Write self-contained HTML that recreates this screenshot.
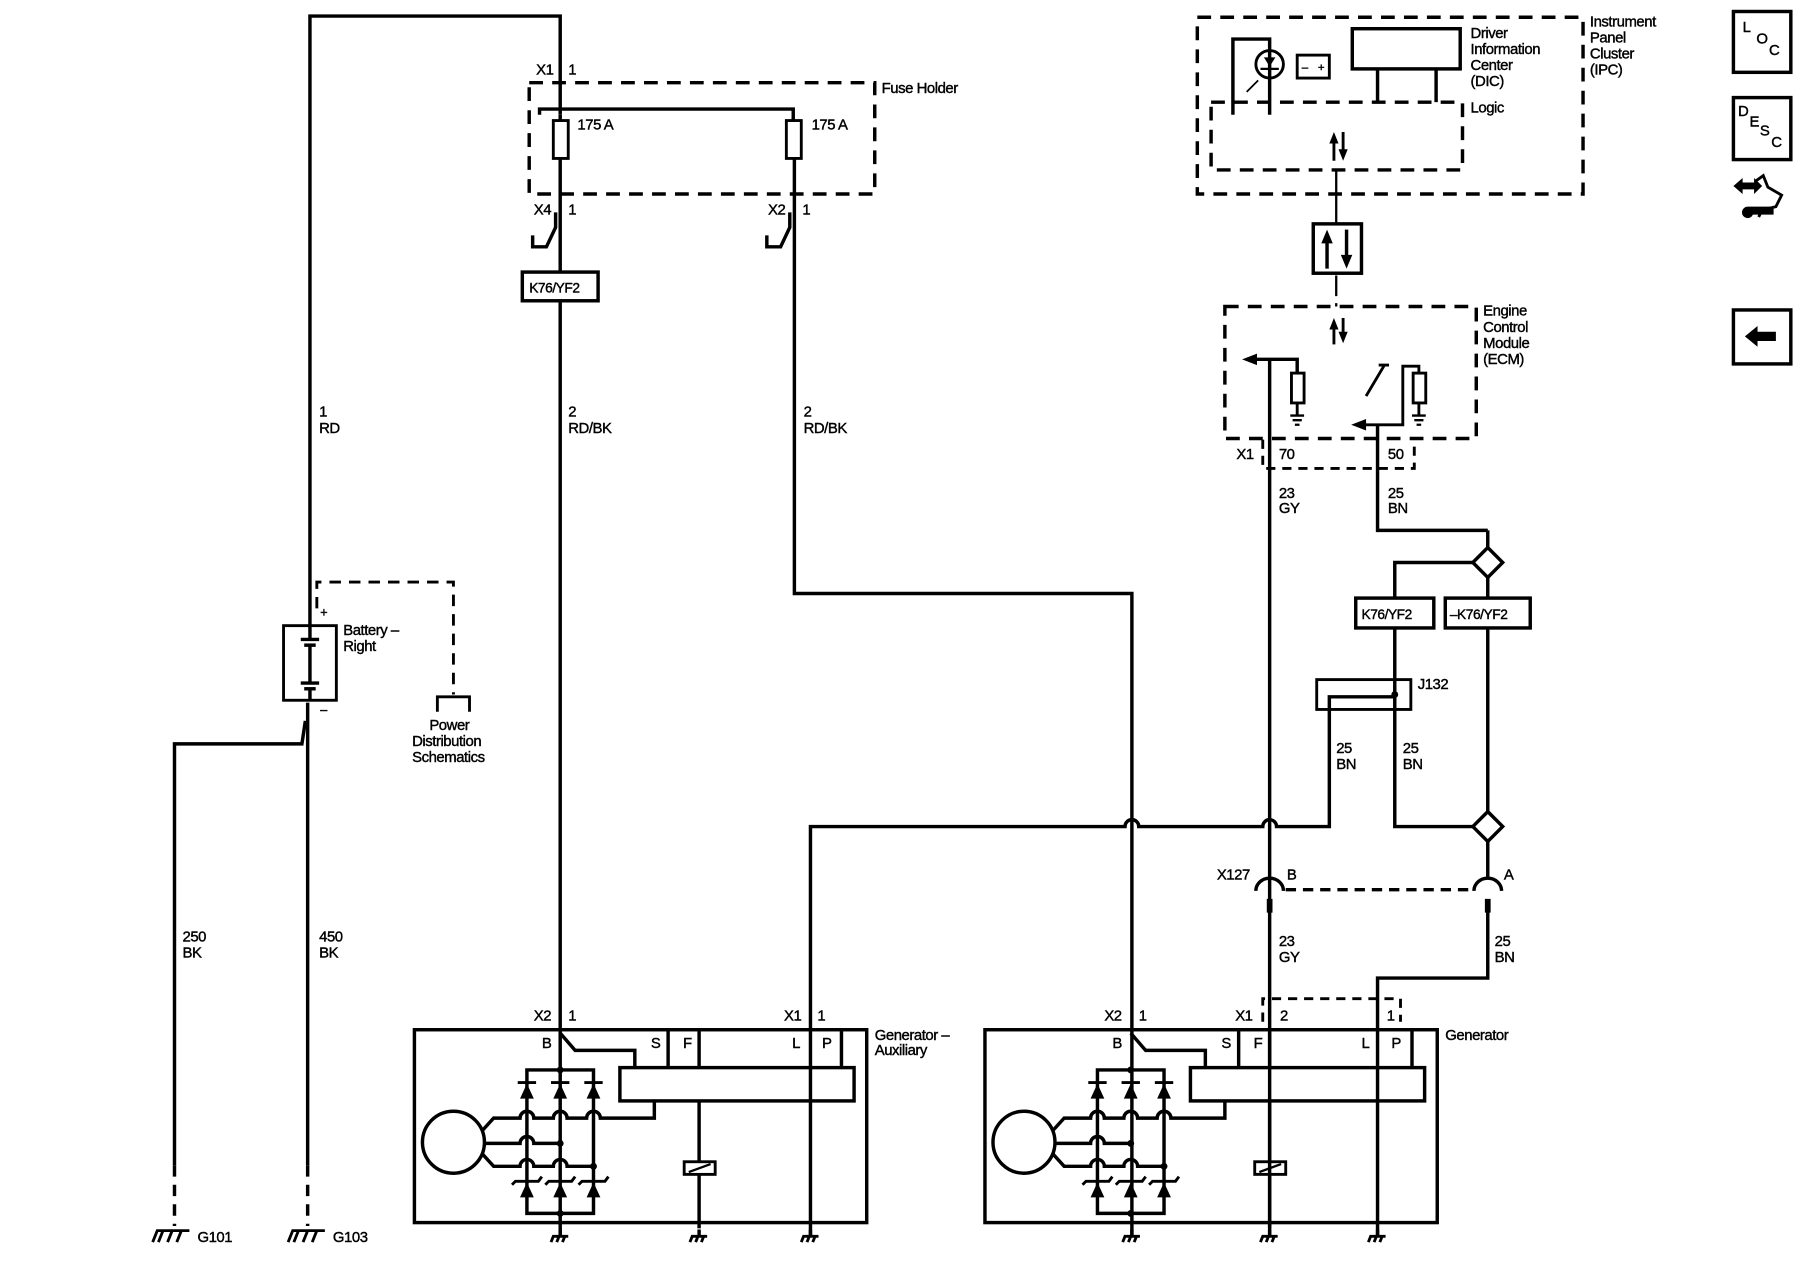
<!DOCTYPE html>
<html><head><meta charset="utf-8"><style>
html,body{margin:0;padding:0;background:#fff;width:1800px;height:1280px;overflow:hidden}
svg{display:block}
text{font-family:"Liberation Sans",Arial,sans-serif;font-size:13px;fill:#000;stroke:#000;stroke-width:0.35;letter-spacing:-0.4px}
</style></head><body>
<svg width="1800" height="1280" viewBox="0 0 1568 1115" xmlns="http://www.w3.org/2000/svg">
<defs>
<g id="gnd"><line x1="0" y1="0" x2="0" y2="6" stroke="#000" stroke-width="3"/><path d="M-8,11 L-6,6 H7 M-6,6 L-8,11 M-1,6 L-3,11 M4,6 L2,11" stroke="#000" stroke-width="2.5" fill="none"/></g>
<g id="gen" fill="none" stroke="#000" stroke-width="3">
<rect x="361" y="897" width="394" height="168"/>
<rect x="540" y="930" width="204" height="29"/>
<line x1="582" y1="897" x2="582" y2="930"/>
<line x1="609" y1="897" x2="609" y2="930"/>
<line x1="733" y1="897" x2="733" y2="930"/>
<path d="M488,900 L501,915 H553 V930"/>
<path d="M459,1057 V932 H517 V1057 Z"/>
<circle cx="395" cy="995" r="27"/>
<path d="M420,985 L430,974 H453 a6,6 0 0 1 12,0 H482 a6,6 0 0 1 12,0 H511 a6,6 0 0 1 12,0 H570 V959"/>
<path d="M422,996 H453 a6,6 0 0 1 12,0 H488"/>
<path d="M420,1005 L430,1016 H453 a6,6 0 0 1 12,0 H482 a6,6 0 0 1 12,0 H517"/>
<line x1="609" y1="959" x2="609" y2="1012"/>
<line x1="609" y1="1024" x2="609" y2="1070"/>
<rect x="596" y="1012" width="27" height="11" stroke-width="2.5"/>
<line x1="600" y1="1021" x2="619" y2="1014" stroke-width="2"/>
</g>
<g id="d1"><path d="M-6,957 L0,944 L6,957 Z" fill="#000"/><line x1="-8" y1="943" x2="8" y2="943" stroke="#000" stroke-width="2.5"/></g>
<g id="d2"><path d="M-6,1043 L0,1030 L6,1043 Z" fill="#000"/><path d="M-13,1032 L-10,1029 H10 L13,1025" stroke="#000" stroke-width="2.5" fill="none"/></g>
</defs>

<g fill="none" stroke="#000" stroke-width="3">
<path d="M270,545 V14 H488 V100"/>
<rect x="247" y="545" width="46" height="65" stroke-width="2.5"/>
<line x1="270" y1="545" x2="270" y2="557"/><line x1="262" y1="557" x2="278" y2="557"/><line x1="265" y1="562" x2="275" y2="562"/><line x1="270" y1="562" x2="270" y2="595"/>
<line x1="262" y1="595" x2="278" y2="595"/><line x1="265" y1="600" x2="275" y2="600"/><line x1="270" y1="600" x2="270" y2="610"/>
<path d="M268,612 V1015"/>
<path d="M266,628 L263,648 H152 V1015"/>
<path d="M152,1015 V1068 M268,1015 V1068" stroke-dasharray="10,7"/>
<path d="M276,530 V507 H395 V605" stroke-dasharray="10,7" stroke-width="2.5"/>
<path d="M381,620 V607 H409 V620" stroke-width="2.5"/>
<rect x="461" y="72" width="301" height="97" stroke-dasharray="12,8"/>
<path d="M470,100 V95 H691 V105"/>
<rect x="482" y="105" width="13" height="33" stroke-width="2.5"/>
<rect x="685" y="105" width="13" height="33" stroke-width="2.5"/>
<line x1="488" y1="100" x2="488" y2="105"/>
<line x1="488" y1="138" x2="488" y2="1077"/>
<path d="M464,205 V215 H476 L484,198 L484,185"/>
<path d="M668,205 V215 H680 L688,198 L688,185"/>
<rect x="455" y="237" width="66" height="25" fill="#fff"/>
<path d="M692,138 V517 H986 V1077"/>
<path d="M706,1077 V720 H980 a6,6 0 0 1 12,0 H1100 a6,6 0 0 1 12,0 H1158 V607 H1215"/>
<rect x="1147" y="592" width="82" height="26" stroke-width="2.5"/>
<path d="M1106,313 V1077"/>
<path d="M1092,313 H1130 V325"/>
<path d="M1200,370 V462 H1296"/>
<path d="M1296,462 V477"/>
<path d="M1283,490 H1215 V521"/>
<rect x="1181" y="521" width="68" height="26" fill="#fff"/>
<rect x="1259" y="521" width="74" height="26" fill="#fff"/>
<path d="M1296,503 V521 M1296,547 V707"/>
<path d="M1215,547 V720 H1283"/>
<path d="M1283,490 L1296,477 L1309,490 L1296,503 Z"/>
<path d="M1283,720 L1296,707 L1309,720 L1296,733 Z"/>
<path d="M1296,733 V764"/>
<path d="M1296,784 V852 H1200 V1077"/>
<path d="M1094,776 a12,11 0 0 1 24,0 M1284,776 a12,11 0 0 1 24,0"/>
<line x1="1120" y1="775" x2="1284" y2="775" stroke-dasharray="9,6"/>
<line x1="1106" y1="783" x2="1106" y2="795" stroke-width="5"/>
<line x1="1296" y1="783" x2="1296" y2="795" stroke-width="5"/>
<rect x="1067" y="267" width="219" height="115" stroke-dasharray="12,8"/>
<path d="M1100,383 V408 H1232 V383" stroke-dasharray="8,6" stroke-width="2.5"/>
<line x1="1164" y1="240" x2="1164" y2="267" stroke-dasharray="18,6" stroke-width="2"/>
<rect x="1125" y="325" width="11" height="26" stroke-width="2.5"/>
<line x1="1130" y1="351" x2="1130" y2="362" stroke-width="2.5"/>
<path d="M1124,362 H1136 M1126,366 H1134 M1128,370 H1132" stroke-width="2"/>
<rect x="1231" y="325" width="11" height="26" stroke-width="2.5"/>
<path d="M1236,325 V319 H1222 V370 H1186" stroke-width="2.5"/>
<path d="M1201,318 H1210 M1206,318 L1190,345" stroke-width="2.5"/>
<line x1="1236" y1="351" x2="1236" y2="362" stroke-width="2.5"/>
<path d="M1230,362 H1242 M1232,366 H1240 M1234,370 H1238" stroke-width="2"/>
<rect x="1043" y="15" width="336" height="154" stroke-dasharray="12,8"/>
<rect x="1055" y="89" width="219" height="59" stroke-dasharray="12,8"/>
<rect x="1178" y="25" width="94" height="35"/>
<path d="M1200,60 V89 M1251,60 V89"/>
<path d="M1074,100 V34 H1106 V100"/>
<circle cx="1106" cy="56" r="12" stroke-width="2.5"/>
<rect x="1130" y="48" width="28" height="20" stroke-width="2.5"/>
<line x1="1164" y1="148" x2="1164" y2="195" stroke-width="2"/>
<rect x="1144" y="195" width="42" height="43"/>
<path d="M1100,890 V870 H1220 V890" stroke-dasharray="8,6" stroke-width="2.5"/>
</g>

<use href="#gen"/>
<use href="#gen" transform="translate(497,0)"/>
<g>
<use href="#d1" x="459"/><use href="#d1" x="488"/><use href="#d1" x="517"/>
<use href="#d2" x="459"/><use href="#d2" x="488"/><use href="#d2" x="517"/>
<use href="#d1" x="956"/><use href="#d1" x="985"/><use href="#d1" x="1014"/>
<use href="#d2" x="956"/><use href="#d2" x="985"/><use href="#d2" x="1014"/>
</g>
<g fill="#000">
<circle cx="488" cy="932" r="3"/><circle cx="488" cy="996" r="3"/><circle cx="517" cy="1016" r="3"/><circle cx="488" cy="1057" r="3"/>
<circle cx="985" cy="932" r="3"/><circle cx="985" cy="996" r="3"/><circle cx="1014" cy="1016" r="3"/><circle cx="985" cy="1057" r="3"/>
<circle cx="1215" cy="605" r="3"/>
<path d="M1095,308 L1082,313 L1095,318 Z"/>
<path d="M1190,365 L1177,370 L1190,375 Z"/>
<path d="M1158,125 L1162,115 L1166,125 Z M1166,130 L1170,140 L1174,130 Z"/>
<path d="M1158,287 L1162,277 L1166,287 Z M1166,289 L1170,299 L1174,289 Z"/>
<path d="M1151,212 L1156,200 L1161,212 Z M1168,222 L1173,234 L1178,222 Z"/>
<path d="M1101,50 L1106,58 L1111,50 Z"/>
</g>
<g stroke="#000" fill="none">
<line x1="1162" y1="122" x2="1162" y2="140" stroke-width="2.5"/><line x1="1170" y1="115" x2="1170" y2="133" stroke-width="2.5"/>
<line x1="1162" y1="284" x2="1162" y2="300" stroke-width="2.5"/><line x1="1170" y1="277" x2="1170" y2="292" stroke-width="2.5"/>
<line x1="1156" y1="210" x2="1156" y2="234" stroke-width="3"/><line x1="1173" y1="200" x2="1173" y2="224" stroke-width="3"/>
<line x1="1098" y1="60" x2="1114" y2="60" stroke-width="2"/>
<line x1="1106" y1="44" x2="1106" y2="68" stroke-width="2"/>
<path d="M1090,76 L1096,70 M1086,80 L1092,74" stroke-width="1.5"/>
</g>
<use href="#gnd" x="488" y="1071"/><use href="#gnd" x="609" y="1071"/><use href="#gnd" x="706" y="1071"/>
<use href="#gnd" x="986" y="1071"/><use href="#gnd" x="1106" y="1071"/><use href="#gnd" x="1200" y="1071"/>
<g stroke="#000" stroke-width="2.5" fill="none">
<path d="M133,1082 L137,1072 H165 M142,1072 L138,1082 M150,1072 L146,1082 M158,1072 L154,1082"/>
<path d="M251,1082 L255,1072 H283 M260,1072 L256,1082 M268,1072 L264,1082 M276,1072 L272,1082"/>
</g>
<g fill="none" stroke="#000" stroke-width="3">
<rect x="1510" y="10" width="50" height="53"/>
<rect x="1510" y="85" width="50" height="54"/>
<rect x="1510" y="270" width="50" height="47"/>
<path d="M1529,158 L1536,153 L1540,163 L1552,170 L1547,180 L1535,183 L1532,189" stroke-width="2.5"/>
</g>
<path d="M1510,162 L1518,155 V159 H1528 V155 L1535,162 L1528,169 V165 H1518 V169 Z" fill="#000"/>
<path d="M1522,180 H1545 V187 H1527 A5,5 0 1 1 1522,180 Z" fill="#000"/>
<path d="M1520,293 L1531,284 V289 H1547 V297 H1531 V302 Z" fill="#000"/>
<g style="font-size:11px">
<text x="1518" y="28">L</text><text x="1530" y="38">O</text><text x="1541" y="48">C</text>
<text x="1514" y="101">D</text><text x="1524" y="110">E</text><text x="1533" y="118">S</text><text x="1543" y="128">C</text>
</g>

<g>
<text x="467" y="65">X1</text><text x="495" y="65">1</text>
<text x="768" y="81">Fuse Holder</text>
<text x="503" y="113">175 A</text><text x="707" y="113">175 A</text>
<text x="465" y="187">X4</text><text x="495" y="187">1</text>
<text x="669" y="187">X2</text><text x="699" y="187">1</text>
<text x="461" y="255" style="font-size:12px">K76/YF2</text>
<text x="278" y="363">1</text><text x="278" y="377">RD</text>
<text x="495" y="363">2</text><text x="495" y="377">RD/BK</text>
<text x="700" y="363">2</text><text x="700" y="377">RD/BK</text>
<text x="299" y="553">Battery –</text><text x="299" y="567">Right</text>
<text x="279" y="537" style="font-size:11px">+</text><text x="279" y="622" style="font-size:11px">–</text>
<text x="374" y="636">Power</text><text x="359" y="650">Distribution</text><text x="359" y="664">Schematics</text>
<text x="159" y="820">250</text><text x="159" y="834">BK</text>
<text x="278" y="820">450</text><text x="278" y="834">BK</text>
<text x="172" y="1082">G101</text><text x="290" y="1082">G103</text>
<text x="465" y="889">X2</text><text x="495" y="889">1</text>
<text x="683" y="889">X1</text><text x="712" y="889">1</text>
<text x="962" y="889">X2</text><text x="992" y="889">1</text>
<text x="1076" y="889">X1</text><text x="1115" y="889">2</text><text x="1208" y="889">1</text>
<text x="472" y="913">B</text><text x="567" y="913">S</text><text x="595" y="913">F</text><text x="690" y="913">L</text><text x="716" y="913">P</text>
<text x="969" y="913">B</text><text x="1064" y="913">S</text><text x="1092" y="913">F</text><text x="1186" y="913">L</text><text x="1212" y="913">P</text>
<text x="762" y="906">Generator –</text><text x="762" y="919">Auxiliary</text>
<text x="1259" y="906">Generator</text>
<text x="1281" y="33">Driver</text><text x="1281" y="47">Information</text><text x="1281" y="61">Center</text><text x="1281" y="75">(DIC)</text>
<text x="1281" y="98">Logic</text>
<text x="1385" y="23">Instrument</text><text x="1385" y="37">Panel</text><text x="1385" y="51">Cluster</text><text x="1385" y="65">(IPC)</text>
<text x="1292" y="275">Engine</text><text x="1292" y="289">Control</text><text x="1292" y="303">Module</text><text x="1292" y="317">(ECM)</text>
<text x="1077" y="400">X1</text><text x="1114" y="400">70</text><text x="1209" y="400">50</text>
<text x="1114" y="434">23</text><text x="1114" y="447">GY</text>
<text x="1209" y="434">25</text><text x="1209" y="447">BN</text>
<text x="1186" y="539" style="font-size:12px">K76/YF2</text>
<text x="1263" y="539" style="font-size:12px">–K76/YF2</text>
<text x="1235" y="600">J132</text>
<text x="1164" y="656">25</text><text x="1164" y="670">BN</text>
<text x="1222" y="656">25</text><text x="1222" y="670">BN</text>
<text x="1060" y="766">X127</text><text x="1121" y="766">B</text><text x="1310" y="766">A</text>
<text x="1114" y="824">23</text><text x="1114" y="838">GY</text>
<text x="1302" y="824">25</text><text x="1302" y="838">BN</text>
<text x="1134" y="62" style="font-size:10px">–</text><text x="1148" y="62" style="font-size:10px">+</text>
</g>
</svg>
</body></html>
